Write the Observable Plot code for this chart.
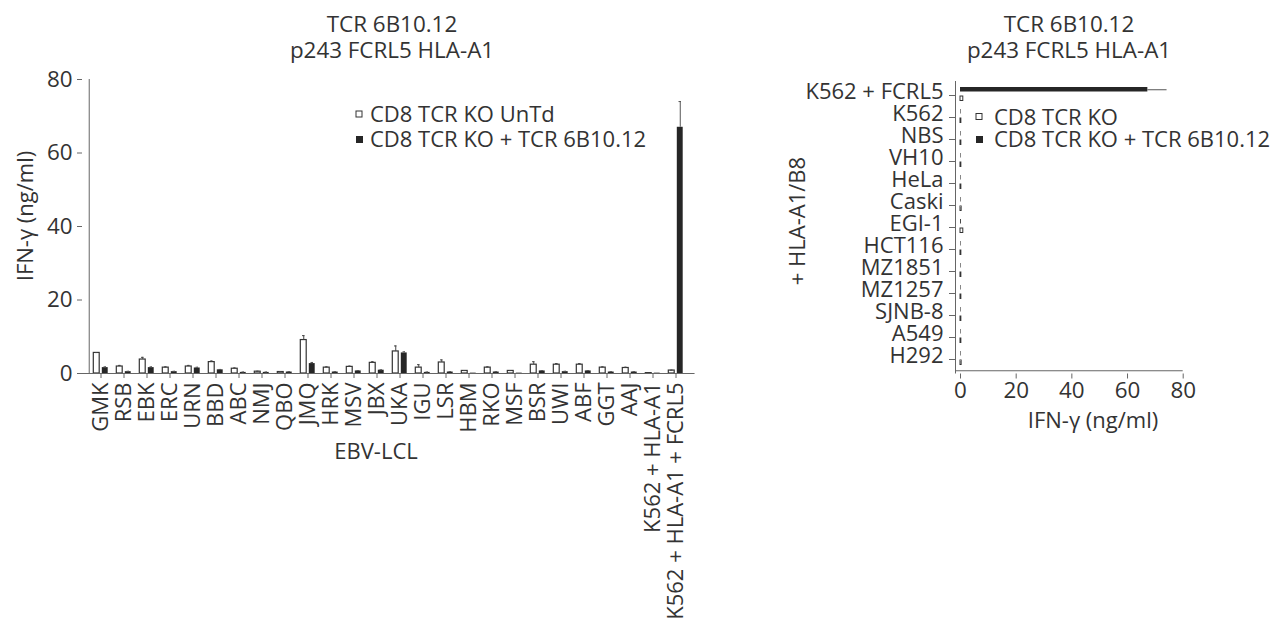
<!DOCTYPE html>
<html><head><meta charset="utf-8">
<script src="https://cdn.jsdelivr.net/npm/d3@7"></script>
<script src="https://cdn.jsdelivr.net/npm/@observablehq/plot@0.6"></script>
<style>
body{margin:0;background:#fff;}
#wrap{position:relative;width:1275px;height:619px;font-family:"Open Sans",sans-serif;color:#333;}
#wrap > svg{position:absolute;top:0;}
</style></head><body><div id="wrap"></div>
<script>
// ---- Left panel data (EBV-LCL) ----
const cats = ["GMK","RSB","EBK","ERC","URN","BBD","ABC","NMJ","QBO","JMQ","HRK","MSV","JBX","UKA","IGU","LSR","HBM","RKO","MSF","BSR","UWI","ABF","GGT","AAJ","K562 + HLA-A1","K562 + HLA-A1 + FCRL5"];
const untd    = [5.6,1.9,3.8,1.6,1.9,3.1,1.3,0.5,0.4,9.1,1.6,1.8,2.9,6.0,1.6,3.0,0.7,1.6,0.7,2.4,2.4,2.4,1.6,1.5,0.1,0.8];
const untdErr = [0.1,0.3,0.6,0.2,0.3,0.3,0.2,0.1,0.1,1.2,0.2,0.2,0.3,1.5,0.8,0.7,0.1,0.2,0.1,0.8,0.3,0.3,0.2,0.2,0.0,0.1];
const tcr     = [1.6,0.5,1.6,0.5,1.5,1.0,0.3,0.3,0.4,2.7,0.4,0.7,0.9,5.6,0.3,0.4,0.1,0.4,0.1,0.7,0.5,0.7,0.4,0.4,0.1,67.0];
const tcrErr  = [0.2,0.1,0.2,0.1,0.2,0.1,0.1,0.1,0.1,0.3,0.1,0.1,0.1,0.3,0.1,0.1,0.0,0.1,0.0,0.1,0.1,0.1,0.1,0.1,0.0,7.0];
const yTicksLeft = [0,20,40,60,80];

// ---- Right panel data (+ HLA-A1/B8) ----
const rcats = ["K562 + FCRL5","K562","NBS","VH10","HeLa","Caski","EGI-1","HCT116","MZ1851","MZ1257","SJNB-8","A549","H292"];
const rKO     = [1.0,0.3,0.3,0.3,0.3,0.4,1.0,0.3,0.3,0.3,0.3,0.3,0.4];
const rTCR    = [67.3,0.2,0.2,0.2,0.2,0.2,0.3,0.2,0.2,0.2,0.2,0.2,0.2];
const rTCRErr = [6.9,0,0,0,0,0,0,0,0,0,0,0,0];
const xTicksRight = [0,20,40,60,80];

const titleLines = ["TCR 6B10.12","p243 FCRL5 HLA-A1"];
const legendLeft = ["CD8 TCR KO UnTd","CD8 TCR KO + TCR 6B10.12"];
const legendRight = ["CD8 TCR KO","CD8 TCR KO + TCR 6B10.12"];

const FONT = '"Open Sans", sans-serif';
const INK = "#333", AX = "#666", DARK = "#262626";
const FS = 22, FT = 22.4;

const leftData = cats.map((c,i)=>({cat:c, untd:untd[i], untdErr:untdErr[i], tcr:tcr[i], tcrErr:tcrErr[i]}));
const S = 23.56, H = S/2;
const left = Plot.plot({
  width: 720, height: 619,
  marginLeft: 82, marginRight: 720 - 82 - 26*S, marginTop: 79, marginBottom: 246,
  style: {fontFamily: FONT, fontSize: FS+"px", color: INK, background: "transparent", overflow: "visible"},
  x: {domain: cats, padding: 0, label: null},
  y: {domain: [0,80], label: null},
  marks: [
    Plot.barY(leftData, {x:"cat", y:"untd", fill:"white", stroke:"#333", strokeWidth:1.2, insetLeft:4.3, insetRight:12.8}),
    Plot.barY(leftData, {x:"cat", y:"tcr", fill:DARK, insetLeft:12.8, insetRight:4.3}),
    Plot.ruleX(leftData.filter(d=>d.untdErr>0), {x:"cat", y1:"untd", y2:d=>d.untd+d.untdErr, dx:-4.25, stroke:"#444"}),
    Plot.tickY(leftData.filter(d=>d.untdErr>0), {x:"cat", y:d=>d.untd+d.untdErr, insetLeft:6, insetRight:14.5, stroke:"#444"}),
    Plot.ruleX(leftData.filter(d=>d.tcrErr>0), {x:"cat", y1:"tcr", y2:d=>d.tcr+d.tcrErr, dx:4.25, stroke:"#555"}),
    Plot.tickY(leftData.filter(d=>d.tcrErr>0), {x:"cat", y:d=>d.tcr+d.tcrErr, insetLeft:14.5, insetRight:6, stroke:"#555"}),
    Plot.ruleY([0], {stroke:AX}),
    Plot.ruleX([cats[0]], {dx:-H, stroke:AX}),
    Plot.axisX({tickRotate:-90, tickSize:5, tickPadding:4, fontSize:FS, stroke:AX, label:null}),
    Plot.axisY({ticks:yTicksLeft, tickSize:5, tickPadding:5, fontSize:FT, stroke:AX, label:null})
  ]
});
left.style.left = "0px";

const rightData = rcats.map((c,i)=>({cat:c, ko:rKO[i], tcr:rTCR[i], err:rTCRErr[i]}));
const RS = (373.5-81)/13;
const right = Plot.plot({
  width: 555, height: 619,
  marginLeft: 235, marginRight: 555-462.7, marginTop: 81, marginBottom: 619-373.5,
  style: {fontFamily: FONT, fontSize: FS+"px", color: INK, background: "transparent", overflow: "visible"},
  x: {domain: [-1.8, 80], label: null},
  y: {domain: rcats, padding: 0, label: null},
  marks: [
    Plot.barX(rightData, {y:"cat", x1:d=>0, x2:"tcr", fill:DARK, insetTop:3, insetBottom:RS-8}),
    Plot.barX(rightData, {y:"cat", x1:d=>0, x2:"ko", fill:"white", stroke:"#333", insetTop:12, insetBottom:RS-17}),
    Plot.ruleY(rightData.filter(d=>d.err>0), {y:"cat", x1:"tcr", x2:d=>d.tcr+d.err, dy:5.5-RS/2, stroke:"#555"}),
    Plot.ruleX(rightData.filter(d=>d.err>0), {x:d=>d.tcr+d.err, y:"cat", dy:5.5-RS/2, stroke:"#555"}),
    Plot.ruleX([-1.8], {stroke:AX}),
    Plot.ruleY([rcats[rcats.length-1]], {dy:RS/2, stroke:AX}),
    Plot.ruleY(rcats, {y:d=>d, x1:d=>-1.8-6/2.784, x2:d=>-1.8, stroke:AX}),
    Plot.axisY({tickSize:0, tickPadding:12, dy:-4, fontSize:FS, label:null}),
    Plot.axisX({ticks:xTicksRight, tickSize:5, tickPadding:3, fontSize:FT, stroke:AX, label:null})
  ]
});
right.style.left = "720px";

const wrap = document.getElementById("wrap");
wrap.appendChild(left);
wrap.appendChild(right);

// ---- overlay: titles, legends, axis labels ----
const ov = d3.select(wrap).append("svg").attr("width",1275).attr("height",619)
  .style("position","absolute").style("left","0px").style("top","0px")
  .attr("font-family", FONT).attr("fill", INK);
function title(cx){
  ov.append("text").attr("x",cx).attr("y",31.5).attr("text-anchor","middle").attr("font-size",FT).text(titleLines[0]);
  ov.append("text").attr("x",cx).attr("y",58).attr("text-anchor","middle").attr("font-size",FT).text(titleLines[1]);
}
title(392); title(1069);
function legend(sx, tx, ys, labels){
  ov.append("rect").attr("x",sx).attr("y",ys[0]-11).attr("width",6).attr("height",6).attr("fill","white").attr("stroke","#333");
  ov.append("rect").attr("x",sx).attr("y",ys[1]-11).attr("width",7).attr("height",7).attr("fill",DARK);
  ov.append("text").attr("x",tx).attr("y",ys[0]).attr("font-size",FS).text(labels[0]);
  ov.append("text").attr("x",tx).attr("y",ys[1]).attr("font-size",FS).text(labels[1]);
}
legend(356, 370, [122,147], legendLeft);
legend(976, 994, [124.5,147], legendRight);
ov.append("text").attr("transform","translate(33,216) rotate(-90)").attr("text-anchor","middle").attr("font-size",FS).text("IFN-γ (ng/ml)");
ov.append("text").attr("x",376).attr("y",459).attr("text-anchor","middle").attr("font-size",FS).text("EBV-LCL");
ov.append("text").attr("x",1093).attr("y",428).attr("text-anchor","middle").attr("font-size",FS).text("IFN-γ (ng/ml)");
ov.append("text").attr("transform","translate(805,221) rotate(-90)").attr("text-anchor","middle").attr("font-size",FS).text("+ HLA-A1/B8");
</script>
</body></html>
